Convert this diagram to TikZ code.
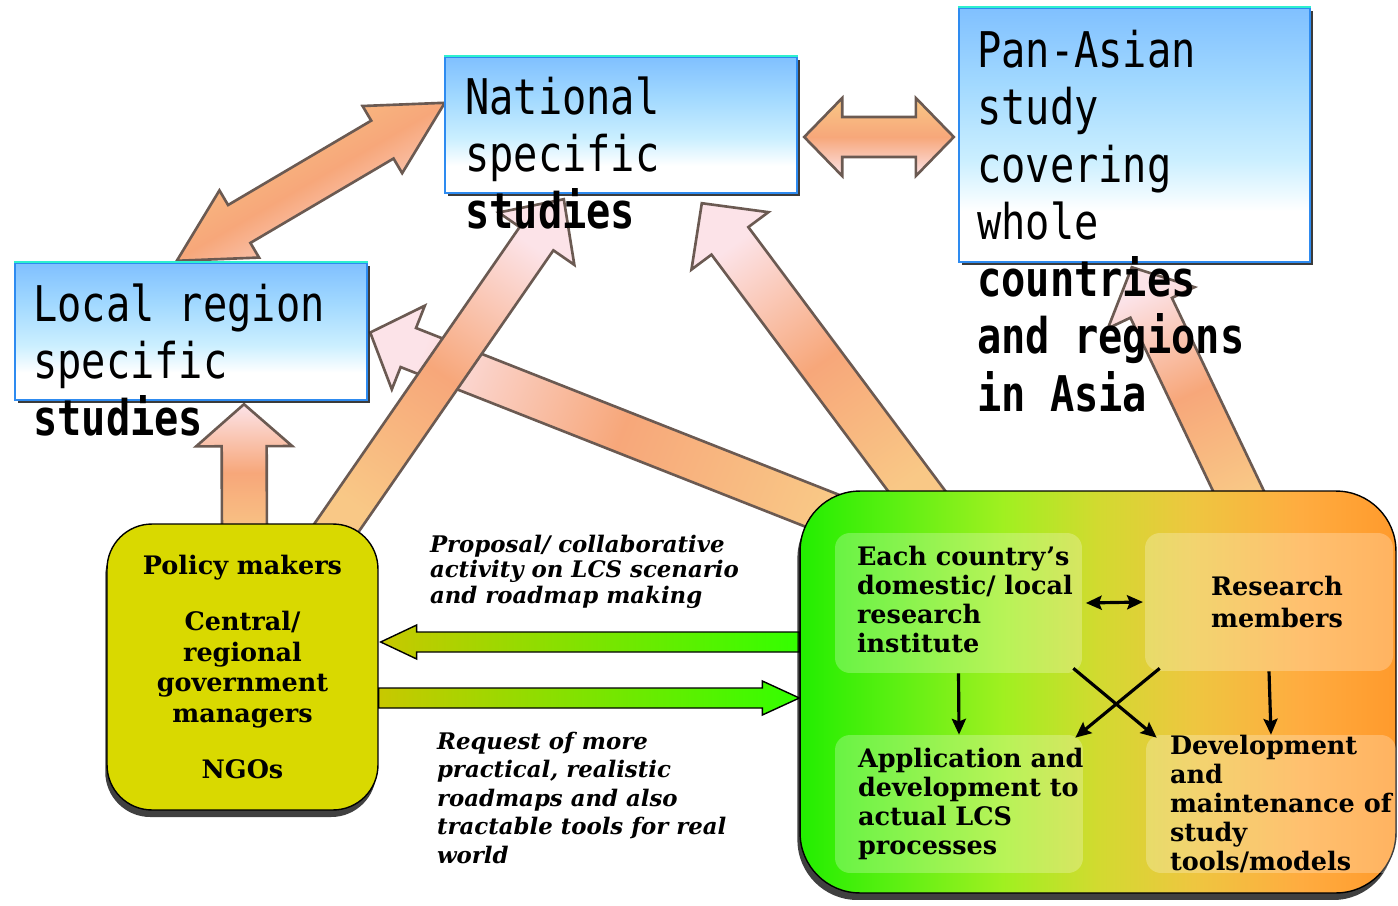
\documentclass[tikz,border=0pt]{standalone}
\usepackage{fontspec}
\newfontfamily\gothic[FakeStretch=0.82]{DejaVu Sans Mono}
\newfontfamily\serifbf{DejaVu Serif}
\usetikzlibrary{calc,positioning,shadows,arrows.meta}

\definecolor{bluetop}{HTML}{80C0FF}
\definecolor{bluemid}{HTML}{A2D9FF}
\definecolor{bluelight}{HTML}{CBEFFF}
\definecolor{boxblue}{HTML}{2E8BF0}
\definecolor{boxcyan}{HTML}{2EF0D0}
\definecolor{arrowedge}{HTML}{6B5A52}
\definecolor{peachtip}{HTML}{FCE3E8}
\definecolor{peachmid}{HTML}{F7A77A}
\definecolor{peachtail}{HTML}{F9C886}
\definecolor{policyfill}{HTML}{D9D900}
\definecolor{olivegreen}{HTML}{C8C800}
\definecolor{brightgreen}{HTML}{33FF00}
\definecolor{g1}{HTML}{22EE00}
\definecolor{g2}{HTML}{5CF012}
\definecolor{g3}{HTML}{A0F020}
\definecolor{g4}{HTML}{D2DA30}
\definecolor{g5}{HTML}{EEC640}
\definecolor{g6}{HTML}{FFAC40}
\definecolor{g7}{HTML}{FF9A2C}

\pgfdeclarelayer{background}
\pgfsetlayers{background,main}

\pgfdeclareverticalshading{bluebox}{100bp}{color(0bp)=(white); color(35bp)=(white);
  color(45bp)=(bluelight); color(60bp)=(bluemid); color(75bp)=(bluetop); color(100bp)=(bluetop)}
\pgfdeclarehorizontalshading{lcsgrad}{100bp}{color(0bp)=(g1); color(25bp)=(g1);
  color(33bp)=(g2); color(42bp)=(g3); color(50bp)=(g4); color(58bp)=(g5);
  color(67bp)=(g6); color(75bp)=(g7); color(100bp)=(g7)}

% block arrow: [style]{from}{to}{shaft half width}{head half width}{head length}
\newcommand\bigarrow[6][]{%
  \coordinate (ah) at ($(#3)!#6!(#2)$);
  \path[#1] ($(#2)!#4!90:(#3)$) -- ($(ah)!#4!-90:(#2)$) -- ($(ah)!#5!-90:(#2)$) -- (#3)
    -- ($(ah)!#5!90:(#2)$) -- ($(ah)!#4!90:(#2)$) -- ($(#2)!#4!-90:(#3)$) -- cycle;}
\newcommand\bigdoublearrow[6][]{%
  \coordinate (ah1) at ($(#2)!#6!(#3)$);
  \coordinate (ah2) at ($(#3)!#6!(#2)$);
  \path[#1] (#2) -- ($(ah1)!#5!90:(#3)$) -- ($(ah1)!#4!90:(#3)$) -- ($(ah2)!#4!-90:(#2)$)
    -- ($(ah2)!#5!-90:(#2)$) -- (#3) -- ($(ah2)!#5!90:(#2)$) -- ($(ah2)!#4!90:(#2)$)
    -- ($(ah1)!#4!-90:(#3)$) -- ($(ah1)!#5!-90:(#3)$) -- cycle;}

\begin{document}
\begin{tikzpicture}[x=0.02cm, y=-0.02cm,
  blue box/.style={draw=boxblue, line width=1.4pt, shade, shading=bluebox, inner sep=0pt,
    drop shadow={shadow xshift=1.6pt, shadow yshift=-1.6pt, fill=black!85, opacity=0.9}},
  gothic text/.style={font=\gothic\fontsize{28}{32.6}\selectfont, align=left, inner sep=0pt},
  peach arrow/.style={draw=arrowedge, line width=1.5pt, top color=peachtip, bottom color=peachtail,
    middle color=peachmid, shading angle=#1},
  peach double/.style={draw=arrowedge, line width=1.5pt, top color=peachtail, bottom color=peachtip,
    middle color=peachmid, shading angle=#1},
  green arrow/.style={draw=black, line width=0.8pt, left color=olivegreen, right color=brightgreen},
  policy box/.style={draw=black, line width=0.8pt, fill=policyfill, rounded corners=0.9cm,
    align=center, font=\serifbf\bfseries\fontsize{14.5}{17.6}\selectfont,
    drop shadow={shadow xshift=-1pt, shadow yshift=-4pt, fill=black, opacity=0.75}},
  lcs box/.style={draw=black, line width=0.8pt, shade, shading=lcsgrad, rounded corners=1.2cm,
    drop shadow={shadow xshift=-1.5pt, shadow yshift=-4pt, fill=black, opacity=0.75}},
  inner box/.style={fill=white, fill opacity=0.25, rounded corners=0.3cm, inner sep=0pt},
  lcs text/.style={font=\serifbf\bfseries\fontsize{14.5}{16.4}\selectfont, align=left, inner sep=0pt},
  label text/.style={font=\serifbf\bfseries\itshape\fontsize{13}{#1}\selectfont, align=left, inner sep=0pt},
  label text/.default=14.7,
  lcs arrow/.style={-{Stealth[length=9pt, width=8pt, inset=1.5pt]}, line width=1.8pt}]
  \useasboundingbox (0,0) rectangle (1398,905);

  % study levels
  \node[blue box, minimum width=7.04cm, minimum height=2.74cm] (local) at (191,331.5) {};
  \node[blue box, minimum width=7.04cm, minimum height=2.72cm] (national) at (621,125) {};
  \node[blue box, minimum width=7.02cm, minimum height=5.08cm] (panasia) at (1134.5,135) {};
  \foreach \b in {local,national,panasia}
    \draw[boxcyan, line width=1.4pt] (\b.north west) -- (\b.north east);

  \node[gothic text, below right=0.43cm and 0.38cm of local.north west] (localtxt)
    {Local region\\specific\\\textbf{studies}};
  \node[gothic text, below right=0.41cm and 0.42cm of national.north west] (nationaltxt)
    {National\\specific\\\textbf{studies}};
  \node[gothic text, below right=0.46cm and 0.38cm of panasia.north west] (panasiatxt)
    {Pan-Asian\\study\\covering\\whole\\\textbf{countries}\\\textbf{and regions}\\\textbf{in Asia}};

  % actors
  \node[policy box, minimum width=5.42cm, minimum height=5.72cm] (policy) at (242.5,667)
    {Policy makers\\[14pt]Central/\\regional\\government\\managers\\[14pt]NGOs};
  \node[lcs box, minimum width=11.92cm, minimum height=8.04cm] (research) at (1098,692) {};

  \node[inner box, minimum width=4.94cm, minimum height=2.8cm] (inst) at (958.5,603) {};
  \node[inner box, minimum width=4.96cm, minimum height=2.76cm] (members) at (1269,602) {};
  \node[inner box, minimum width=4.96cm, minimum height=2.76cm] (appl) at (959,804) {};
  \node[inner box, minimum width=5cm, minimum height=2.76cm] (devel) at (1271,804) {};

  \node[lcs text, right=0.44cm of inst.west, yshift=2pt] (insttxt)
    {Each country’s\\domestic/ local\\research\\institute};
  \node[lcs text, align=center] (memberstxt) at ($(members.center)+(8,0)$)
    {Research\\[2pt]members};
  \node[lcs text, right=0.46cm of appl.west] (appltxt)
    {Application and\\development to\\actual LCS\\processes};
  \node[lcs text, right=0.48cm of devel.west] (develtxt)
    {Development\\and\\maintenance of\\study\\tools/models};

  \draw[lcs arrow, {Stealth[length=9pt, width=8pt, inset=1.5pt]}-{Stealth[length=9pt, width=8pt, inset=1.5pt]}]
    ([xshift=2pt]inst.east) -- ([xshift=-1pt]members.west);
  \draw[lcs arrow] (inst.south) -- (appl.north);
  \draw[lcs arrow] (members.south) -- (devel.north);
  \draw[lcs arrow] ([shift={(-9,-5)}]inst.south east) -- ([shift={(11,3)}]devel.north west);
  \draw[lcs arrow] ([shift={(15,-3)}]members.south west) -- ([shift={(-8,3)}]appl.north east);

  % labels of the exchange
  \node[label text, below right=0.22cm and 1.02cm of policy.north east] (proposal)
    {Proposal/ collaborative\\activity on LCS scenario\\and roadmap making};
  \node[label text=16.2, below right=1.29cm and 1.16cm of policy.east] (request)
    {Request of more\\practical, realistic\\roadmaps and also\\tractable tools for real\\world};

  \coordinate (ln1) at ($(local.north west)+(163,-1)$);
  \coordinate (ln2) at ($(national.north west)+(1,47)$);
  \coordinate (np1) at ($(national.east)+(6,12)$);
  \coordinate (np2) at ($(panasia.west)+(-4,2)$);
  \coordinate (pl1) at ($(policy.north)+(2,18)$);
  \coordinate (pl2) at ($(local.south)+(53,3)$);
  \coordinate (pn1) at ($(policy.north)+(86,16)$);
  \coordinate (pn2) at ($(national.south west)+(120,5)$);
  \coordinate (rl1) at ($(research.north west)+(70,39)$);
  \coordinate (rl2) at ($(local.east)+(2,1)$);
  \coordinate (rn1) at ($(research.north west)+(131,19)$);
  \coordinate (rn2) at ($(national.south west)+(258,9)$);
  \coordinate (rp1) at ($(research.north east)+(-148,22)$);
  \coordinate (rp2) at ($(panasia.south west)+(174,4)$);
  \coordinate (prop1) at ($(research.west |- policy.east)+(0,-25)$);
  \coordinate (prop2) at ($(policy.east)+(2,-25)$);
  \coordinate (req1) at ($(policy.east)+(0,31)$);
  \coordinate (req2) at ($(research.west |- policy.east)+(0,31)$);

  \begin{pgfonlayer}{background}
    \bigdoublearrow[peach double=30]{ln1}{ln2}{0.44cm}{0.78cm}{1.45cm}
    \bigdoublearrow[peach double=0]{np1}{np2}{0.4cm}{0.78cm}{0.76cm}
    \bigarrow[peach arrow=0]{pl1}{pl2}{0.45cm}{0.96cm}{0.84cm}
    \bigarrow[peach arrow=68]{rl1}{rl2}{0.42cm}{0.9cm}{0.82cm}
    \bigarrow[peach arrow=-35]{pn1}{pn2}{0.41cm}{0.92cm}{0.96cm}
    \bigarrow[peach arrow=36]{rn1}{rn2}{0.46cm}{0.96cm}{0.94cm}
    \bigarrow[peach arrow=25]{rp1}{rp2}{0.46cm}{0.96cm}{0.9cm}
    \bigarrow[green arrow]{prop1}{prop2}{0.2cm}{0.34cm}{0.72cm}
    \bigarrow[green arrow]{req1}{req2}{0.2cm}{0.34cm}{0.74cm}
  \end{pgfonlayer}
\end{tikzpicture}
\end{document}
